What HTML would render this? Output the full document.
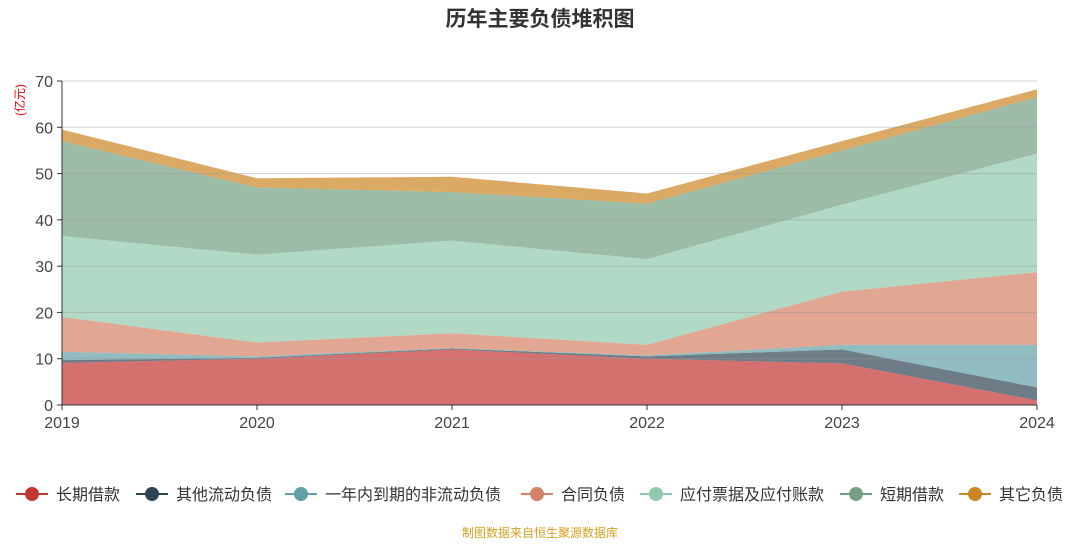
<!DOCTYPE html>
<html><head><meta charset="utf-8"><style>
body{margin:0;background:#fff;width:1080px;height:540px;overflow:hidden;font-family:"Liberation Sans","Noto Sans CJK SC",sans-serif}
</style></head><body>
<svg id="chart" width="1080" height="540" xmlns="http://www.w3.org/2000/svg" font-family="Liberation Sans, Noto Sans CJK SC, sans-serif">
<text x="540" y="26" text-anchor="middle" font-size="21" font-weight="bold" fill="#333">历年主要负债堆积图</text>
<text transform="translate(24,100) rotate(-90)" text-anchor="middle" font-size="12" fill="#e00">(亿元)</text>
<g id="areas"></g><g id="grid"></g><g id="axes"></g><g id="legend"></g>
<text x="540" y="537" text-anchor="middle" font-size="12" fill="#d4a020">制图数据来自恒生聚源数据库</text>
</svg>
<script>
const years=["2019","2020","2021","2022","2023","2024"];
const seriesNames=["长期借款","其他流动负债","一年内到期的非流动负债","合同负债","应付票据及应付账款","短期借款","其它负债"];
const longLoan=[9.1,10,12,10,9,1];
const otherCurrent=[0.6,0.2,0.2,0.5,3,2.8];
const dueWithinYear=[1.8,0.3,0.1,0.2,1,9.2];
const contractLiab=[7.5,3,3.2,2.3,11.5,15.7];
const payables=[17.5,19,20,18.5,18.8,25.6];
const shortLoan=[20.5,14.5,10.5,12,11.7,12.2];
const otherLiab=[2.5,2,3.3,2.2,2,1.7];
const yTicks=[0,10,20,30,40,50,60,70];
const colors=["#c23531","#2f4554","#61a0a8","#d48265","#91c7ae","#749f83","#ca8622"];
const NS="http://www.w3.org/2000/svg";
const X0=62,X1=1037,Y0=405,Y1=81,YMAX=70;
const xs=i=>X0+(X1-X0)*i/(years.length-1);
const ys=v=>Y0-(Y0-Y1)*v/YMAX;
function mk(tag,attrs,parent){const e=document.createElementNS(NS,tag);for(const k in attrs)e.setAttribute(k,attrs[k]);parent.appendChild(e);return e;}
const data=[longLoan,otherCurrent,dueWithinYear,contractLiab,payables,shortLoan,otherLiab];
const areas=document.getElementById('areas');
let base=years.map(()=>0);
data.forEach((s,k)=>{
  const top=base.map((b,i)=>b+s[i]);
  let d="M"+years.map((_,i)=>xs(i)+","+ys(top[i])).join(" L");
  for(let i=years.length-1;i>=0;i--)d+=" L"+xs(i)+","+ys(base[i]);
  d+="Z";
  const p=mk('path',{d:d,fill:colors[k],'fill-opacity':0.7},areas);
  
  
  base=top;
});
const grid=document.getElementById('grid'),axes=document.getElementById('axes');
yTicks.forEach(t=>{
  if(t>0){const l=mk('line',{x1:X0,x2:X1,y1:ys(t),y2:ys(t),stroke:'#999','stroke-opacity':0.45},grid);
  
  }
  mk('line',{x1:X0-5,x2:X0,y1:ys(t),y2:ys(t),stroke:'#333'},axes);
  const tx=mk('text',{x:X0-9,y:ys(t)+6,'text-anchor':'end','font-size':16,fill:'#444'},axes);
  tx.textContent=t;
  
  
});
mk('line',{x1:X0,x2:X0,y1:Y1,y2:Y0,stroke:'#333'},axes);
mk('line',{x1:X0,x2:X1,y1:Y0,y2:Y0,stroke:'#333'},axes);
years.forEach((y,i)=>{
  mk('line',{x1:xs(i),x2:xs(i),y1:Y0,y2:Y0+5,stroke:'#333'},axes);
  const tx=mk('text',{x:xs(i),y:Y0+23,'text-anchor':'middle','font-size':16,fill:'#444'},axes);
  tx.textContent=y;
  
  
});
const lg=document.getElementById('legend');
const lx=[32,152,301,537,656,856,975];
seriesNames.forEach((n,k)=>{
  const g=mk('g',{},lg);
  
  
  mk('line',{x1:lx[k]-16,x2:lx[k]+16,y1:494,y2:494,stroke:colors[k],'stroke-width':2},g);
  mk('circle',{cx:lx[k],cy:494,r:7,fill:colors[k]},g);
  const t=mk('text',{x:lx[k]+24,y:500,'font-size':16,fill:'#333'},g);
  t.textContent=n;
});
</script>
</body></html>
